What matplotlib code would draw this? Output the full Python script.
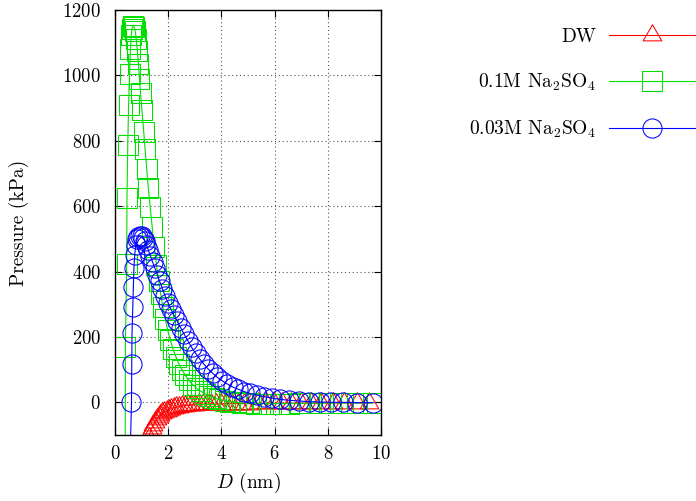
import matplotlib
matplotlib.use("Agg")
import matplotlib.pyplot as plt
from matplotlib.path import Path

plt.rcParams['font.family'] = ['cmr10', 'DejaVu Serif']
plt.rcParams['mathtext.fontset'] = 'cm'
plt.rcParams['axes.formatter.use_mathtext'] = True

# DW
dw_d = [1.20, 1.26, 1.32, 1.38, 1.44, 1.50, 1.57, 1.64, 1.71, 1.78, 1.86, 1.94,
        2.02, 2.11, 2.20, 2.30, 2.40, 2.51, 2.62, 2.74, 2.87, 3.00, 3.14, 3.29,
        3.45, 3.62, 3.80, 3.99, 4.19, 4.40, 4.62, 4.86, 5.11, 5.38, 5.66, 5.96,
        6.28, 6.62, 6.98, 7.36, 7.76, 8.18, 8.62, 9.08, 9.56]
dw_p = [-135, -108, -92, -80, -69, -60, -52, -45, -39, -34, -30, -26,
        -23, -20, -17, -15, -13, -11, -10, -9, -8, -7, -6, -6,
        -5, -5, -5, -5, -4, -4, -4, -4, -4, -3, -3, -3,
        -3, -3, -3, -2, -2, -2, -2, -2, -2]

# 0.1M Na2SO4
na01_d = [0.38, 0.39, 0.44, 0.45, 0.48, 0.51, 0.55, 0.58, 0.61, 0.64, 0.68, 0.72,
          0.76, 0.80, 0.84, 0.88, 0.92, 0.96, 1.01, 1.08, 1.13, 1.19, 1.25, 1.32,
          1.40, 1.48, 1.56, 1.64, 1.72, 1.80, 1.89, 1.98, 2.08, 2.18, 2.29, 2.40,
          2.52, 2.65, 2.78, 2.92, 3.07, 3.22, 3.38, 3.55, 3.73, 3.92, 4.12, 4.33,
          4.55, 4.78, 5.03, 5.30, 5.58, 5.88, 6.20, 6.55, 6.92, 7.30, 7.70, 8.12,
          8.56, 9.10, 9.70]
na01_p = [-400, 170, 422, 624, 786, 909, 1005, 1080, 1122, 1143, 1150, 1148,
          1136, 1110, 1075, 1036, 990, 945, 895, 827, 775, 715, 657, 598,
          535, 475, 420, 372, 330, 292, 255, 222, 190, 163, 139, 118,
          99, 82, 67, 54, 43, 34, 26, 19, 13, 9, 5, 2,
          0, -2, -3, -4, -4, -4, -4, -4, -3, -3, -3, -2,
          -2, -2, -2]

# 0.03M Na2SO4
na003_d = [0.50, 0.62, 0.63, 0.64, 0.67, 0.69, 0.71, 0.74, 0.78, 0.83, 0.88, 0.94,
           1.00, 1.06, 1.12, 1.18, 1.25, 1.33, 1.41, 1.50, 1.59, 1.68, 1.78, 1.88,
           1.99, 2.10, 2.22, 2.34, 2.47, 2.60, 2.74, 2.88, 3.03, 3.18, 3.34, 3.50,
           3.67, 3.85, 4.03, 4.22, 4.42, 4.63, 4.85, 5.08, 5.33, 5.60, 5.90, 6.22,
           6.56, 6.92, 7.30, 7.70, 8.12, 8.56, 9.10, 9.70]
na003_p = [-400, 1, 116, 212, 292, 353, 410, 450, 480, 498, 506, 510,
           508, 503, 494, 482, 466, 448, 430, 410, 390, 370, 348, 326,
           305, 285, 266, 248, 228, 208, 188, 168, 150, 133, 117, 102,
           89, 76, 66, 56, 47, 40, 33, 27, 22, 17, 13, 9,
           6, 4, 2, 1, 0, 0, -1, -1]

labels = ['DW', r'0.1M Na$_2$SO$_4$', r'0.03M Na$_2$SO$_4$']

# gnuplot-like triangle: point sits 2/3 of the way down
tri = Path([(0, 1), (-0.866, -0.5), (0.866, -0.5), (0, 1)],
           [Path.MOVETO, Path.LINETO, Path.LINETO, Path.CLOSEPOLY])

fig = plt.figure(figsize=(6.96, 5.01), dpi=100)
ax = fig.add_axes([115/696, 1 - 435/501, 266/696, 425/501])

ax.plot(dw_d, dw_p, color='#ff0000', lw=0.8, marker=tri, ms=15.5,
        mfc='none', mec='#ff0000', mew=0.75, label=labels[0])
ax.plot(na01_d, na01_p, color='#00e000', lw=0.8, marker='s', ms=13.8,
        mfc='none', mec='#00e000', mew=0.75, label=labels[1])
ax.plot(na003_d, na003_p, color='#0000ff', lw=0.8, marker='o', ms=13.8,
        mfc='none', mec='#0000ff', mew=0.75, label=labels[2])

ax.set_xlim(0, 10)
ax.set_ylim(-100, 1200)
ax.set_xticks(range(0, 11, 2))
ax.set_yticks(range(0, 1201, 200))
ax.tick_params(direction='in', length=5, width=0.8, top=True, right=True,
               labelsize=13.5)
ax.tick_params(axis='x', pad=7)
ax.tick_params(axis='y', pad=10)
ax.grid(True, color='#555555', linestyle=(0, (1, 2.5)), lw=0.8)
for s in ax.spines.values():
    s.set_linewidth(1.0)

ax.set_xlabel(r'$D$ (nm)', fontsize=14, labelpad=6)
ax.set_ylabel('Pressure (kPa)', fontsize=14, labelpad=24)

ax.legend(loc='upper right', bbox_to_anchor=(1.0, 1 - 28/501),
          bbox_transform=fig.transFigure, frameon=False, markerfirst=False,
          handlelength=4.5, handletextpad=0.65, labelspacing=1.33,
          borderpad=0, borderaxespad=0, fontsize=14)

fig.savefig('out.png', dpi=100)
